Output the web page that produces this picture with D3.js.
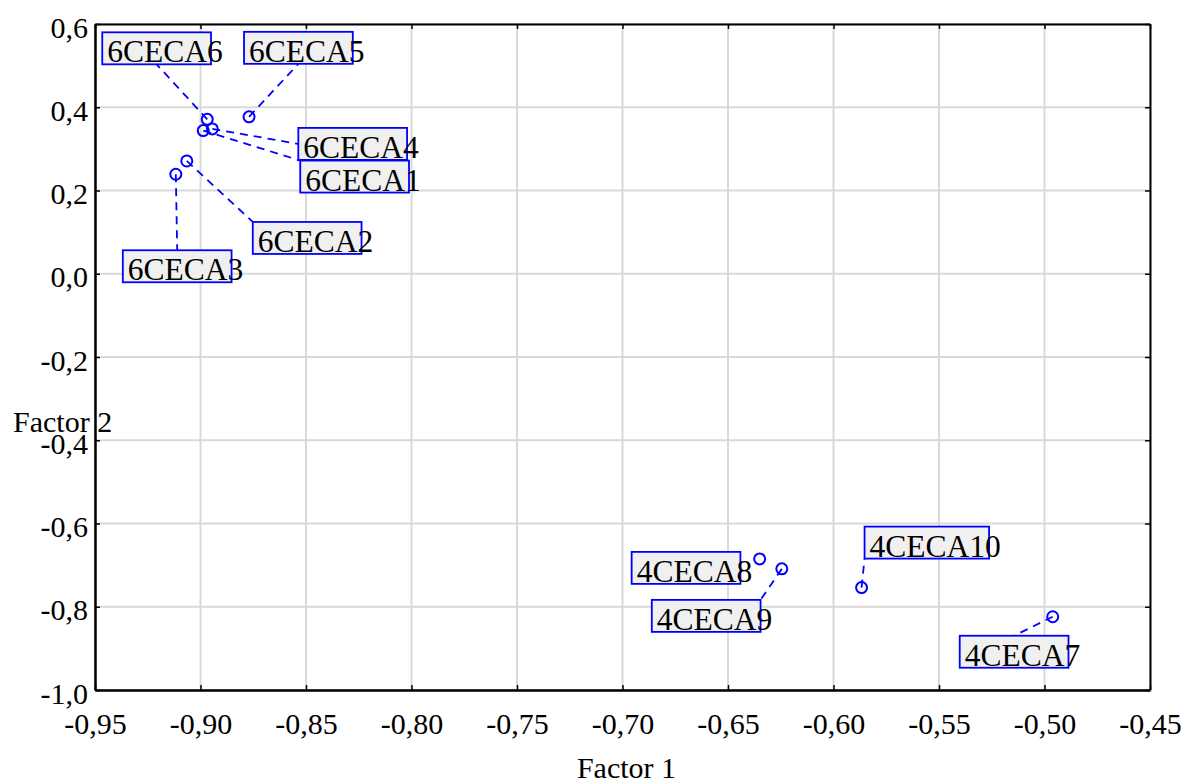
<!DOCTYPE html>
<html>
<head>
<meta charset="utf-8">
<script src="https://cdn.jsdelivr.net/npm/d3@7"></script>
<style>
body{margin:0;background:#fff;}
text{font-family:"Liberation Serif","Times New Roman",serif;}
</style>
</head>
<body>
<div id="wrapper"></div>
<script>
// Data
const labels = ['6CECA1','6CECA2','6CECA3','6CECA4','6CECA5','6CECA6','4CECA7','4CECA8','4CECA9','4CECA10'];
const factor1 = [-0.8987,-0.9065,-0.9117,-0.8944,-0.8770,-0.8968,-0.4961,-0.6350,-0.6245,-0.5867];
const factor2 = [0.344,0.271,0.239,0.348,0.377,0.371,-0.824,-0.685,-0.709,-0.754];
const xTicks = [-0.95,-0.90,-0.85,-0.80,-0.75,-0.70,-0.65,-0.60,-0.55,-0.50,-0.45];
const yTicks = [0.6,0.4,0.2,0.0,-0.2,-0.4,-0.6,-0.8,-1.0];

// label layout: box offset from point (px) and where the leader line meets the box
const labelLayout = [
  {dx:97,dy:30,ax:0,ay:0},
  {dx:66,dy:61,ax:0,ay:0},
  {dx:-53,dy:76,ax:0.5,ay:0},
  {dx:86,dy:-1,ax:0,ay:0.5},
  {dx:-5,dy:-85,ax:0.5,ay:1},
  {dx:-105,dy:-87,ax:0.5,ay:1},
  {dx:-93,dy:19,ax:0.5,ay:0},
  {dx:-128,dy:-7,ax:null,ay:null},
  {dx:-130,dy:31,ax:1,ay:0},
  {dx:3,dy:-61,ax:0,ay:1}
];

const dataset = labels.map((l,i)=>({label:l,x:factor1[i],y:factor2[i],lay:labelLayout[i]}));

// Dimension
const dimensions = {width:1189,height:784,margins:{top:24,left:95,right:39,bottom:94}};
dimensions.boundedWidth = dimensions.width-dimensions.margins.left-dimensions.margins.right;
dimensions.boundedHeight = dimensions.height-dimensions.margins.top-dimensions.margins.bottom;

const svg = d3.select('#wrapper').append('svg')
  .attr('width',dimensions.width).attr('height',dimensions.height);
const bounds = svg.append('g')
  .attr('transform',`translate(${dimensions.margins.left},${dimensions.margins.top})`);

// Scales
const xScale = d3.scaleLinear().domain([-0.95,-0.45]).range([0,dimensions.boundedWidth]);
const yScale = d3.scaleLinear().domain([-1.0,0.6]).range([dimensions.boundedHeight,0]);
const fmtX = d=>d3.format('.2f')(d).replace('.',',').replace('−','-');
const fmtY = d=>d3.format('.1f')(d).replace('.',',').replace('−','-');

// Grid
bounds.append('g').selectAll('line').data(xTicks).join('line')
  .attr('x1',d=>xScale(d)).attr('x2',d=>xScale(d))
  .attr('y1',0).attr('y2',dimensions.boundedHeight)
  .attr('stroke','#d9d9d9').attr('stroke-width',2);
bounds.append('g').selectAll('line').data(yTicks).join('line')
  .attr('y1',d=>yScale(d)).attr('y2',d=>yScale(d))
  .attr('x1',0).attr('x2',dimensions.boundedWidth)
  .attr('stroke','#d9d9d9').attr('stroke-width',2);

// Axes (ticks inward on all four sides)
const tickLen = 5;
const xAxisB = bounds.append('g').attr('transform',`translate(0,${dimensions.boundedHeight})`)
  .call(d3.axisBottom(xScale).tickValues(xTicks).tickSizeInner(-tickLen).tickSizeOuter(0).tickFormat(fmtX));
xAxisB.selectAll('text').attr('y',44).attr('dy',0).attr('font-size','30px').attr('fill','#000');
const xAxisT = bounds.append('g')
  .call(d3.axisTop(xScale).tickValues(xTicks).tickSizeInner(-tickLen).tickSizeOuter(0).tickFormat(''));
const yAxisL = bounds.append('g')
  .call(d3.axisLeft(yScale).tickValues(yTicks).tickSizeInner(-tickLen).tickSizeOuter(0).tickFormat(fmtY));
yAxisL.selectAll('text').attr('x',-7).attr('dy',13).attr('font-size','30px').attr('fill','#000');
const yAxisR = bounds.append('g').attr('transform',`translate(${dimensions.boundedWidth},0)`)
  .call(d3.axisRight(yScale).tickValues(yTicks).tickSizeInner(-tickLen).tickSizeOuter(0).tickFormat(''));
[xAxisB,xAxisT,yAxisL,yAxisR].forEach(a=>{
  a.attr('font-family',null);
  a.selectAll('.tick line').attr('stroke','#000').attr('stroke-width',1.5);
});
xAxisB.select('.domain').attr('stroke','#000').attr('stroke-width',2.5);
yAxisL.select('.domain').attr('stroke','#000').attr('stroke-width',2.5);
xAxisT.select('.domain').attr('stroke','#000').attr('stroke-width',2);
yAxisR.select('.domain').attr('stroke','#000').attr('stroke-width',2);

// Axis labels
svg.append('text').text('Factor 1')
  .attr('x',dimensions.margins.left+dimensions.boundedWidth/2+4).attr('y',778)
  .attr('text-anchor','middle').attr('font-size','30px');
svg.append('text').text('Factor 2')
  .attr('x',13).attr('y',432).attr('font-size','30px');

// measuring helper
const measure = svg.append('text').attr('font-size','31.5px').attr('visibility','hidden');
const textLen = s=>{measure.text(s);return measure.node().getComputedTextLength();};

const boxH = 32;
dataset.forEach(d=>{
  const px = xScale(d.x), py = yScale(d.y);
  d.bx = px+d.lay.dx; d.by = py+d.lay.dy;
  d.bw = textLen(d.label.slice(0,-1))+9;
});

// Leader lines
bounds.append('g').selectAll('line').data(dataset.filter(d=>d.lay.ax!==null)).join('line')
  .attr('x1',d=>xScale(d.x)).attr('y1',d=>yScale(d.y))
  .attr('x2',d=>d.bx+d.bw*d.lay.ax).attr('y2',d=>d.by+boxH*d.lay.ay)
  .attr('stroke','#0000ff').attr('stroke-width',1.8).attr('stroke-dasharray','8,6');

// Points
bounds.append('g').selectAll('circle').data(dataset).join('circle')
  .attr('cx',d=>xScale(d.x)).attr('cy',d=>yScale(d.y)).attr('r',5.5)
  .attr('fill','none').attr('stroke','#0000ff').attr('stroke-width',2);

// Labels
const lab = bounds.append('g').selectAll('g').data(dataset).join('g');
lab.append('rect')
  .attr('x',d=>d.bx).attr('y',d=>d.by).attr('width',d=>d.bw).attr('height',boxH)
  .attr('fill','#f0f0f0').attr('stroke','#0000ff').attr('stroke-width',1.8);
lab.append('text')
  .attr('x',d=>d.bx+5).attr('y',d=>d.by+boxH-2)
  .attr('font-size','31.5px').attr('fill','#000')
  .text(d=>d.label);
measure.remove();
</script>
</body>
</html>
